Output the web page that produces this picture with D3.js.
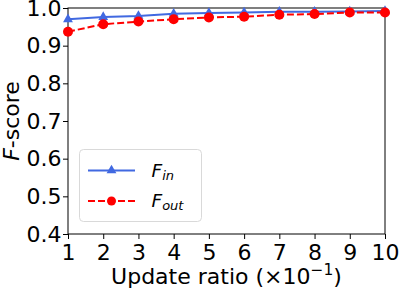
<!DOCTYPE html>
<html>
<head>
<meta charset="utf-8">
<script src="https://cdn.jsdelivr.net/npm/d3@7"></script>
<style>
  body { margin: 0; background: #fff; }
  text { font-family: "DejaVu Sans", sans-serif; }
</style>
</head>
<body>
<div id="chart"></div>
<script>
var ratios = [1, 2, 3, 4, 5, 6, 7, 8, 9, 10];
var fIn = [0.970, 0.976, 0.979, 0.985, 0.987, 0.988, 0.990, 0.990, 0.991, 0.992];
var fOut = [0.937, 0.957, 0.964, 0.970, 0.975, 0.977, 0.982, 0.984, 0.988, 0.988];
var xTicks = [1, 2, 3, 4, 5, 6, 7, 8, 9, 10];
var yTicks = [0.4, 0.5, 0.6, 0.7, 0.8, 0.9, 1.0];

var WIDTH = 399, HEIGHT = 292;
var margin = {top: 8, left: 68, right: 14, bottom: 58};
var W = WIDTH - margin.left - margin.right;
var H = HEIGHT - margin.top - margin.bottom;

var sx = d3.scaleLinear().domain([1, 10]).range([0, W]);
var sy = d3.scaleLinear().domain([0.4, 1.0]).range([H, 0]);

var svg = d3.select('#chart').append('svg')
    .attr('width', WIDTH)
    .attr('height', HEIGHT);

var g = svg.append('g')
    .attr('transform', 'translate(' + margin.left + ',' + margin.top + ')');

var ax = d3.axisBottom(sx).tickValues(xTicks).tickSize(5).tickPadding(5)
    .tickFormat(d3.format('d'));
var ay = d3.axisLeft(sy).tickValues(yTicks).tickSize(5).tickPadding(1.5)
    .tickFormat(d3.format('.1f'));

var gx = g.append('g')
    .attr('transform', 'translate(0,' + H + ')')
    .call(ax);
var gy = g.append('g').call(ay);

[gx, gy].forEach(function(a) {
    a.select('.domain').remove();
    a.selectAll('text').attr('font-size', 22).attr('fill', '#000')
        .style('font-family', '"DejaVu Sans", sans-serif');
    a.selectAll('line').attr('stroke', '#000').attr('stroke-width', 1);
});
gx.selectAll('text').attr('dy', '0.71em');

// frame
g.append('rect')
    .attr('width', W).attr('height', H)
    .attr('fill', 'none').attr('stroke', '#000').attr('stroke-width', 1);

var line = d3.line().x(function(d, i) { return sx(ratios[i]); }).y(function(d) { return sy(d); });

g.append('path')
    .datum(fIn)
    .attr('d', line)
    .attr('fill', 'none')
    .attr('stroke', '#4169e1')
    .attr('stroke-width', 2);

var tri = d3.symbol().type(d3.symbolTriangle).size(42);
g.selectAll('.tri').data(fIn).enter().append('path')
    .attr('class', 'tri')
    .attr('d', tri)
    .attr('transform', function(d, i) { return 'translate(' + sx(ratios[i]) + ',' + sy(d) + ')'; })
    .attr('fill', '#4169e1');

g.append('path')
    .datum(fOut)
    .attr('d', line)
    .attr('fill', 'none')
    .attr('stroke', '#ff0000')
    .attr('stroke-width', 2)
    .attr('stroke-dasharray', '7,3');

g.selectAll('.dot').data(fOut).enter().append('circle')
    .attr('class', 'dot')
    .attr('cx', function(d, i) { return sx(ratios[i]); })
    .attr('cy', function(d) { return sy(d); })
    .attr('r', 5)
    .attr('fill', '#ff0000');

// legend
var lg = svg.append('g').attr('transform', 'translate(79.5,149.5)');
lg.append('rect')
    .attr('width', 122).attr('height', 72).attr('rx', 4)
    .attr('fill', '#fff').attr('stroke', '#d9d9d9').attr('stroke-width', 1);

lg.append('line').attr('x1', 8.5).attr('x2', 55.5).attr('y1', 21).attr('y2', 21)
    .attr('stroke', '#4169e1').attr('stroke-width', 2);
lg.append('path').attr('d', tri).attr('transform', 'translate(32,21)').attr('fill', '#4169e1');
var t1 = lg.append('text').attr('x', 72).attr('y', 27).attr('font-size', 18.5);
t1.append('tspan').attr('font-style', 'italic').text('F');
t1.append('tspan').attr('font-style', 'italic').attr('font-size', 13).attr('dy', 3).text('in');

lg.append('line').attr('x1', 8.5).attr('x2', 55.5).attr('y1', 51.5).attr('y2', 51.5)
    .attr('stroke', '#ff0000').attr('stroke-width', 2).attr('stroke-dasharray', '7,3');
lg.append('circle').attr('cx', 32).attr('cy', 51.5).attr('r', 4.5).attr('fill', '#ff0000');
var t2 = lg.append('text').attr('x', 72).attr('y', 57.5).attr('font-size', 18.5);
t2.append('tspan').attr('font-style', 'italic').text('F');
t2.append('tspan').attr('font-style', 'italic').attr('font-size', 13).attr('dy', 3).text('out');

// axis labels
var xl = svg.append('text')
    .attr('x', margin.left + W / 2).attr('y', 284)
    .attr('text-anchor', 'middle').attr('font-size', 22);
xl.append('tspan').text('Update ratio (\u00d710');
xl.append('tspan').attr('font-size', 15.5).attr('dy', -9).text('\u22121');
xl.append('tspan').attr('dy', 9).text(')');

var yl = svg.append('text')
    .attr('transform', 'translate(19,' + (margin.top + H / 2) + ') rotate(-90)')
    .attr('text-anchor', 'middle').attr('font-size', 22);
yl.append('tspan').attr('font-style', 'italic').text('F');
yl.append('tspan').text('-score');
</script>
</body>
</html>
